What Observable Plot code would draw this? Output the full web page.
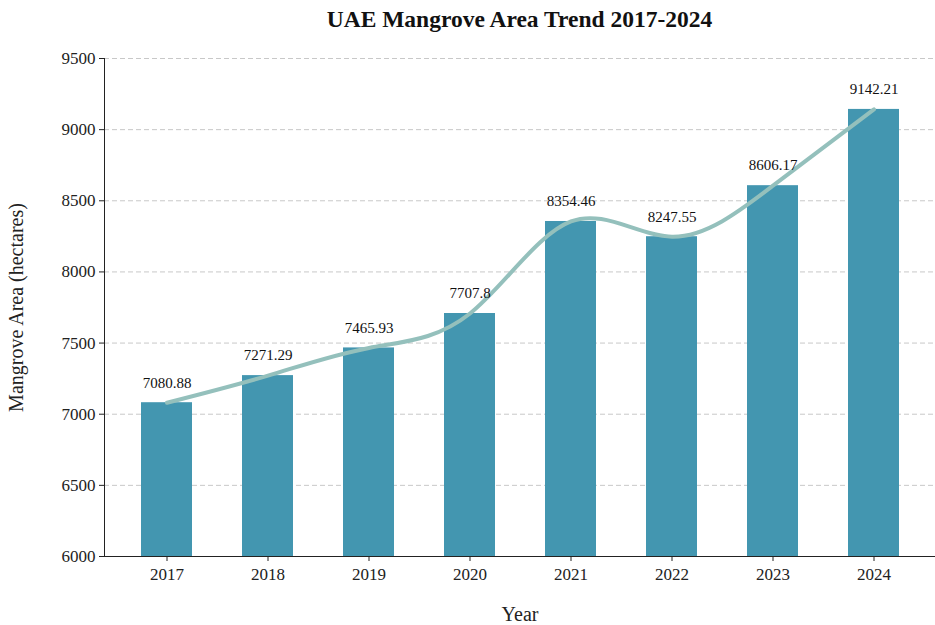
<!DOCTYPE html>
<html>
<head>
<meta charset="utf-8">
<script src="https://cdn.jsdelivr.net/npm/d3@7"></script>
<script src="https://cdn.jsdelivr.net/npm/@observablehq/plot@0.6"></script>
<style>
  body { margin: 0; background: #fff; font-family: "Liberation Serif", "DejaVu Serif", serif; }
  #title { height: 40px; line-height: 38px; padding-left: 104px; text-align: center; font-weight: bold; font-size: 23.5px; color: #111; box-sizing: border-box; width: 935px; }
</style>
</head>
<body>
<div id="title">UAE Mangrove Area Trend 2017-2024</div>
<div id="chart"></div>
<script>
const years = ["2017", "2018", "2019", "2020", "2021", "2022", "2023", "2024"];
const areas = [7080.88, 7271.29, 7465.93, 7707.8, 8354.46, 8247.55, 8606.17, 9142.21];
const yTicks = [6000, 6500, 7000, 7500, 8000, 8500, 9000, 9500];

const data = years.map((y, i) => ({year: y, area: areas[i]}));

const chart = Plot.plot({
  width: 935,
  height: 585,
  marginTop: 18,
  marginLeft: 104,
  marginRight: 0,
  marginBottom: 69,
  style: {fontFamily: "'Liberation Serif', serif", fontSize: "17px", color: "#222", background: "#fff"},
  x: {domain: years, paddingInner: 0.5, paddingOuter: 0.36, label: null},
  y: {domain: [6000, 9500], label: null},
  marks: [
    Plot.gridY(yTicks, {stroke: "#c8c8c8", strokeOpacity: 1, strokeDasharray: "5,3", strokeWidth: 1}),
    Plot.barY(data, {x: "year", y1: 6000, y2: "area", fill: "#4396b0"}),
    Plot.line(data, {x: "year", y: "area", curve: "natural", stroke: "#94c0bc", strokeWidth: 4}),
    Plot.text(data, {x: "year", y: "area", text: d => String(d.area), dy: -20, fontSize: 15, fill: "#111"}),
    Plot.axisX({tickSize: 5, tickPadding: 6, fontSize: 17, label: "Year", labelAnchor: "center", labelArrow: "none", labelOffset: 64, stroke: "#222"}),
    Plot.axisY(yTicks, {tickSize: 5, tickPadding: 4, fontSize: 17, tickFormat: d => String(d), label: "Mangrove Area (hectares)", labelAnchor: "center", labelArrow: "none", labelOffset: 96, stroke: "#222"}),
    Plot.frame({anchor: "left", stroke: "#222"}),
    Plot.frame({anchor: "bottom", stroke: "#222"})
  ]
});
d3.select(chart).selectAll("g[aria-label='x-axis label'] text, g[aria-label='y-axis label'] text").style("font-size", "20px");
document.getElementById("chart").appendChild(chart);
</script>
</body>
</html>
